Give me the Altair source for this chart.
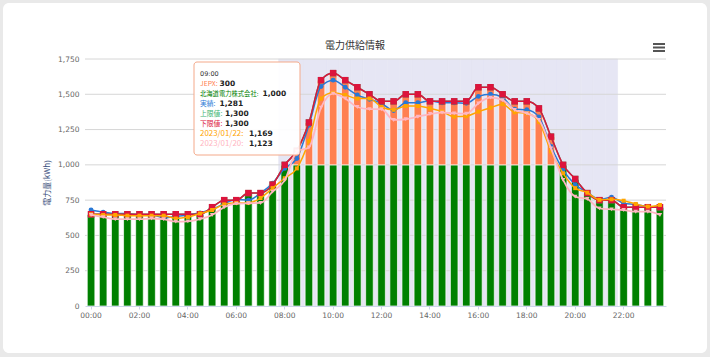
import altair as alt
import pandas as pd

# ---------------- data ----------------
times = [f"{h:02d}:{m:02d}" for h in range(24) for m in (0, 30)]
axis_times = [f"{h:02d}:00" for h in range(0, 24, 2)]
highlight_times = times[16:44]
y_ticks = [0, 250, 500, 750, 1000, 1250, 1500, 1750]

hokkaido = [650, 650, 650, 650, 650, 650, 650, 650, 650, 650,
            700, 750, 750, 800, 800, 860, 1000, 1000, 1000, 1000,
            1000, 1000, 1000, 1000, 1000, 1000, 1000, 1000, 1000, 1000,
            1000, 1000, 1000, 1000, 1000, 1000, 1000, 1000, 1000, 1000,
            900, 800, 750, 750, 700, 700, 700, 700]
jepx = [0, 0, 0, 0, 0, 0, 0, 0, 0, 0,
        0, 0, 0, 0, 0, 0, 0, 100, 300, 600,
        650, 600, 550, 500, 450, 450, 500, 500, 450, 450,
        450, 450, 550, 550, 500, 450, 450, 400, 200, 0,
        0, 0, 0, 0, 0, 0, 0, 0]
actual = [680, 665, 655, 655, 645, 645, 625, 635, 645, 660,
          685, 725, 755, 750, 800, 870, 975, 1045, 1281, 1555,
          1600, 1550, 1495, 1465, 1435, 1385, 1440, 1440, 1455, 1440,
          1440, 1436, 1485, 1500, 1478, 1395, 1390, 1340, 1130, 965,
          860, 805, 755, 770, 728, 720, 705, 700]
upper = [650, 650, 650, 650, 650, 650, 650, 650, 650, 650,
         700, 750, 750, 800, 800, 860, 1000, 1100, 1300, 1600,
         1650, 1600, 1550, 1500, 1450, 1450, 1500, 1500, 1450, 1450,
         1450, 1450, 1550, 1550, 1500, 1450, 1450, 1400, 1200, 1000,
         900, 800, 750, 750, 700, 700, 700, 700]
lower = [650, 650, 650, 650, 650, 650, 650, 650, 650, 650,
         700, 750, 750, 800, 800, 860, 1000, 1100, 1300, 1600,
         1650, 1600, 1550, 1500, 1450, 1450, 1500, 1500, 1450, 1450,
         1450, 1450, 1550, 1550, 1500, 1450, 1450, 1400, 1200, 1000,
         900, 800, 750, 750, 700, 700, 700, 700]
d0122 = [650, 645, 645, 640, 640, 640, 640, 620, 630, 655,
         680, 720, 730, 730, 765, 835, 905, 975, 1169, 1470,
         1510, 1495, 1470, 1470, 1410, 1390, 1417, 1417, 1400, 1378,
         1342, 1345, 1377, 1405, 1430, 1372, 1365, 1305, 1095, 940,
         835, 803, 752, 756, 746, 723, 705, 716]
d0120 = [645, 630, 615, 615, 615, 620, 615, 598, 600, 615,
         645, 700, 725, 728, 730, 810, 890, 1095, 1123, 1405,
         1505, 1470, 1410, 1395, 1394, 1318, 1323, 1341, 1360, 1370,
         1365, 1362, 1436, 1476, 1459, 1389, 1365, 1318, 1117, 893,
         775, 758, 692, 685, 680, 668, 668, 645]

hover_index = 18
chart_title = "電力供給情報"

# ---------------- frames ----------------
bars = pd.DataFrame({
    "t": times * 2,
    "series": ["北海道電力株式会社"] * len(times) + ["JEPX"] * len(times),
    "value": hokkaido + jepx,
    "stackorder": [0] * len(times) + [1] * len(times),
})
lines = pd.DataFrame({"t": times, "actual": actual, "upper": upper,
                      "lower": lower, "d0122": d0122, "d0120": d0120})
band_df = pd.DataFrame({"t": highlight_times})
grid_df = pd.DataFrame({"v": y_ticks[1:]})

CJK = "Noto Sans CJK JP"
LAB = "DejaVu Sans"
W, H = 581, 247

x_scale = alt.Scale(type="band", domain=times, paddingInner=0, paddingOuter=0)
x_axis = alt.Axis(values=axis_times, labelAngle=0, labelFontSize=7.5, labelFont=LAB,
                  labelColor="#666666", domainColor="#ccd6eb", tickColor="#ccd6eb",
                  tickSize=3, labelPadding=2, grid=False, zindex=1)


def X():
    return alt.X("t:N", scale=x_scale, axis=x_axis, title=None)


y_scale = alt.Scale(domain=[0, 1750], nice=False, zero=True)
y_axis = alt.Axis(values=y_ticks, labelExpr="format(datum.value, ',')", grid=False,
                  domain=False, ticks=False,
                  labelFontSize=7.5, labelFont=LAB, labelColor="#666666", labelPadding=6,
                  title="電力量(kWh)", titleFont=CJK, titleFontSize=8, titleFontWeight="normal",
                  titleColor="#3b4f7d", titleX=-38, titleY=H / 2, titleAngle=270,
                  titleAlign="center", titleBaseline="middle", zindex=1)


def Y(field, stack=None):
    return alt.Y(f"{field}:Q", scale=y_scale, axis=y_axis, stack=stack)


one = pd.DataFrame({"a": [0]})

card = alt.Chart(one).mark_rect(color="white", cornerRadius=6).encode(
    x=alt.value(-82), x2=alt.value(622), y=alt.value(-56), y2=alt.value(294))

title_mark = alt.Chart(one).mark_text(
    font=CJK, fontSize=10, color="#333333", align="center", baseline="middle",
    text=chart_title).encode(x=alt.value(270), y=alt.value(-13))

band = alt.Chart(band_df).mark_rect(color="#e6e6f4", stroke="#e6e6f4", strokeWidth=0.6).encode(
    x=X(), y=alt.value(0), y2=alt.value(H))

grid = alt.Chart(grid_df).mark_rule(color="#d6d6d6", strokeWidth=1).encode(
    y=alt.Y("v:Q", scale=y_scale, axis=y_axis))

bar = alt.Chart(bars).mark_bar(size=7.6, stroke="white", strokeWidth=0.7).encode(
    x=X(),
    y=Y("value", stack="zero"),
    color=alt.Color("series:N", scale=alt.Scale(domain=["JEPX", "北海道電力株式会社"],
                                                range=["#FF7F50", "#008000"]), legend=None),
    order=alt.Order("stackorder:Q", sort="ascending"),
)


def line_layer(field, color, shape, size, width=1.5):
    return alt.Chart(lines).mark_line(
        interpolate="monotone", color=color, strokeWidth=width,
        point=alt.OverlayMarkDef(shape=shape, size=size, filled=True, color=color, opacity=1),
    ).encode(x=X(), y=Y(field))


l_actual = line_layer("actual", "#2878d6", "circle", 24)
l_upper = line_layer("upper", "#3CB371", "square", 40)
l_lower = line_layer("lower", "#DC143C", "square", 42)
l_0122 = line_layer("d0122", "#FFA500", "square", 16)
l_0120 = line_layer("d0120", "#FFB6C1", "triangle-down", 20, width=1.8)

# ---------------- tooltip (hovered point) ----------------
tt_labels = ["JEPX:", "北海道電力株式会社:", "実績:", "上限値:", "下限値:", "2023/01/22:", "2023/01/20:"]
tt_colors = ["#FF7F50", "#008000", "#2878d6", "#3CB371", "#DC143C", "#FFA500", "#FFB6C1"]
tt_series = [jepx, hokkaido, actual, upper, lower, d0122, d0120]
tt_sizes = [6.8, 6.3, 6.8, 6.8, 6.8, 7.9, 7.9]
tt_valx = [134.5, 177.5, 134.5, 140, 140, 164, 164]

tt_layers = [
    alt.Chart(one).mark_rect(fill="white", fillOpacity=0.93, stroke="#f4a98a",
                             strokeWidth=1, cornerRadius=3).encode(
        x=alt.value(109), x2=alt.value(215), y=alt.value(3), y2=alt.value(96)),
    alt.Chart(one).mark_text(align="left", baseline="middle", fontSize=6.5, font=LAB,
                             color="#333333", text=times[hover_index]).encode(
        x=alt.value(115), y=alt.value(15)),
]
for i, (lab, col, s, fs, vx) in enumerate(zip(tt_labels, tt_colors, tt_series, tt_sizes, tt_valx)):
    ypos = 24.5 + 10 * i
    tt_layers.append(alt.Chart(one).mark_text(
        align="left", baseline="middle", font=CJK, fontSize=fs, color=col, text=lab).encode(
        x=alt.value(115), y=alt.value(ypos)))
    tt_layers.append(alt.Chart(one).mark_text(
        align="left", baseline="middle", font=LAB, fontSize=7.5, fontWeight="bold",
        color="#222222", text=f"{s[hover_index]:,}").encode(
        x=alt.value(vx), y=alt.value(ypos)))

# ---------------- menu icon ----------------
menu = [alt.Chart(one).mark_rule(color="#555555", strokeWidth=2).encode(
    x=alt.value(568), x2=alt.value(580), y=alt.value(yy)) for yy in (-15, -11.5, -8)]

chart = alt.layer(
    card, title_mark, band, grid, bar, l_actual, l_upper, l_lower, l_0122, l_0120,
    *tt_layers, *menu,
).properties(
    width=W, height=H,
    autosize=alt.AutoSizeParams(type="none"),
    padding={"left": 85, "top": 59, "right": 44, "bottom": 51},
    background="#e9e9e9",
).configure_view(stroke=None)

chart.save("out.html", embed_options={"renderer": "svg", "actions": False})
